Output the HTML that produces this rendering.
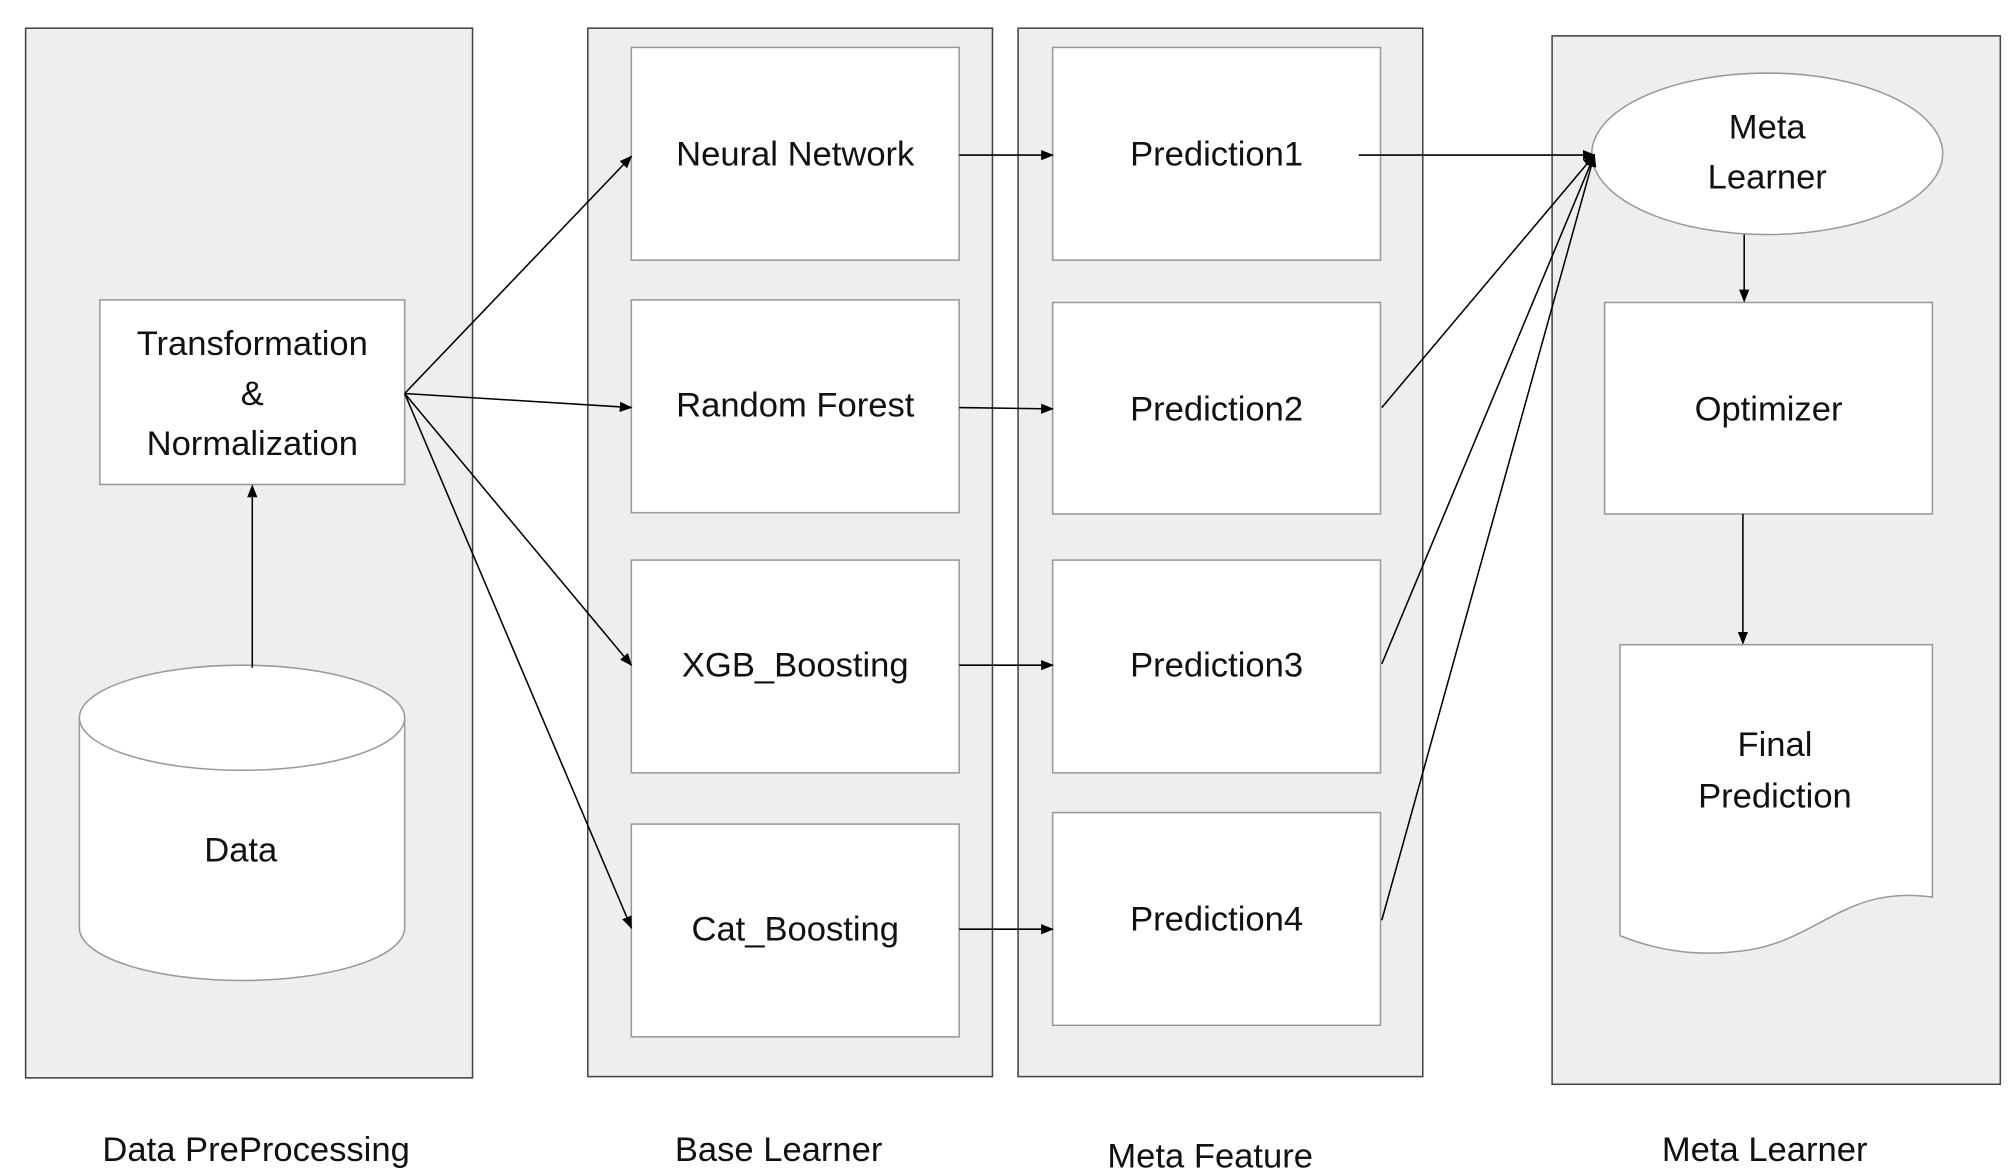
<!DOCTYPE html>
<html><head><meta charset="utf-8"><style>
html,body{margin:0;padding:0;background:#fff}
svg{display:block}
text{font-family:"Liberation Sans",sans-serif;font-size:27px;fill:#111;text-anchor:middle}
</style></head><body>
<svg width="2008" height="1174" viewBox="0 0 1568 916" preserveAspectRatio="none" xmlns="http://www.w3.org/2000/svg">
<defs><marker id="a" markerWidth="10" markerHeight="10" refX="9" refY="5" orient="auto" markerUnits="userSpaceOnUse"><path d="M0,1 L10,5 L0,9 z" fill="#000"/></marker></defs>
<rect width="1568" height="916" fill="#fff"/>
<g fill="#eeeeee" stroke="#444" stroke-width="1.2">
<rect x="20" y="22" width="349" height="819"/>
<rect x="459" y="22" width="316" height="818"/>
<rect x="795" y="22" width="316" height="818"/>
<rect x="1212" y="28" width="350" height="818"/>
</g>
<g fill="#fff" stroke="#999" stroke-width="1.2">
<rect x="78" y="234" width="238" height="144"/>
<rect x="493" y="37" width="256" height="166"/>
<rect x="493" y="234" width="256" height="166"/>
<rect x="493" y="437" width="256" height="166"/>
<rect x="493" y="643" width="256" height="166"/>
<rect x="822" y="37" width="256" height="166"/>
<rect x="822" y="236" width="256" height="165"/>
<rect x="822" y="437" width="256" height="166"/>
<rect x="822" y="634" width="256" height="166"/>
<ellipse cx="1380" cy="120" rx="137" ry="63"/>
<rect x="1253" y="236" width="256" height="165"/>
<path d="M1265,503 H1509 V700 C1440,690 1420,735 1360,742 C1320,747 1290,740 1265,730 Z"/>
<path d="M62,560 V724 A127,41 0 0 0 316,724 V560"/>
<ellipse cx="189" cy="560" rx="127" ry="41"/>
</g>
<g stroke="#000" stroke-width="1.2" fill="none" marker-end="url(#a)">
<line x1="197" y1="521" x2="197" y2="379"/>
<line x1="316" y1="307" x2="493" y2="122"/>
<line x1="316" y1="307" x2="493" y2="318"/>
<line x1="316" y1="307" x2="493" y2="519"/>
<line x1="316" y1="307" x2="493" y2="724"/>
<line x1="749" y1="121" x2="822" y2="121"/>
<line x1="749" y1="318" x2="822" y2="319"/>
<line x1="749" y1="519" x2="822" y2="519"/>
<line x1="749" y1="725" x2="822" y2="725"/>
<line x1="1061" y1="121" x2="1245" y2="121"/>
<line x1="1079" y1="318" x2="1245" y2="121"/>
<line x1="1079" y1="518" x2="1245" y2="121"/>
<line x1="1079" y1="718" x2="1245" y2="121"/>
<line x1="1362" y1="183" x2="1362" y2="235"/>
<line x1="1361" y1="401" x2="1361" y2="502"/>
</g>
<text x="197" y="277">Transformation</text>
<text x="197" y="316">&amp;</text>
<text x="197" y="355">Normalization</text>
<text x="188" y="672">Data</text>
<text x="621" y="129">Neural Network</text>
<text x="621" y="325">Random Forest</text>
<text x="621" y="528">XGB_Boosting</text>
<text x="621" y="734">Cat_Boosting</text>
<text x="950" y="129">Prediction1</text>
<text x="950" y="328">Prediction2</text>
<text x="950" y="528">Prediction3</text>
<text x="950" y="726">Prediction4</text>
<text x="1380" y="108">Meta</text>
<text x="1380" y="147">Learner</text>
<text x="1381" y="328">Optimizer</text>
<text x="1386" y="590">Final</text>
<text x="1386" y="630">Prediction</text>
<text x="200" y="906">Data PreProcessing</text>
<text x="608" y="906">Base Learner</text>
<text x="945" y="911">Meta Feature</text>
<text x="1378" y="906">Meta Learner</text>
</svg>
</body></html>
